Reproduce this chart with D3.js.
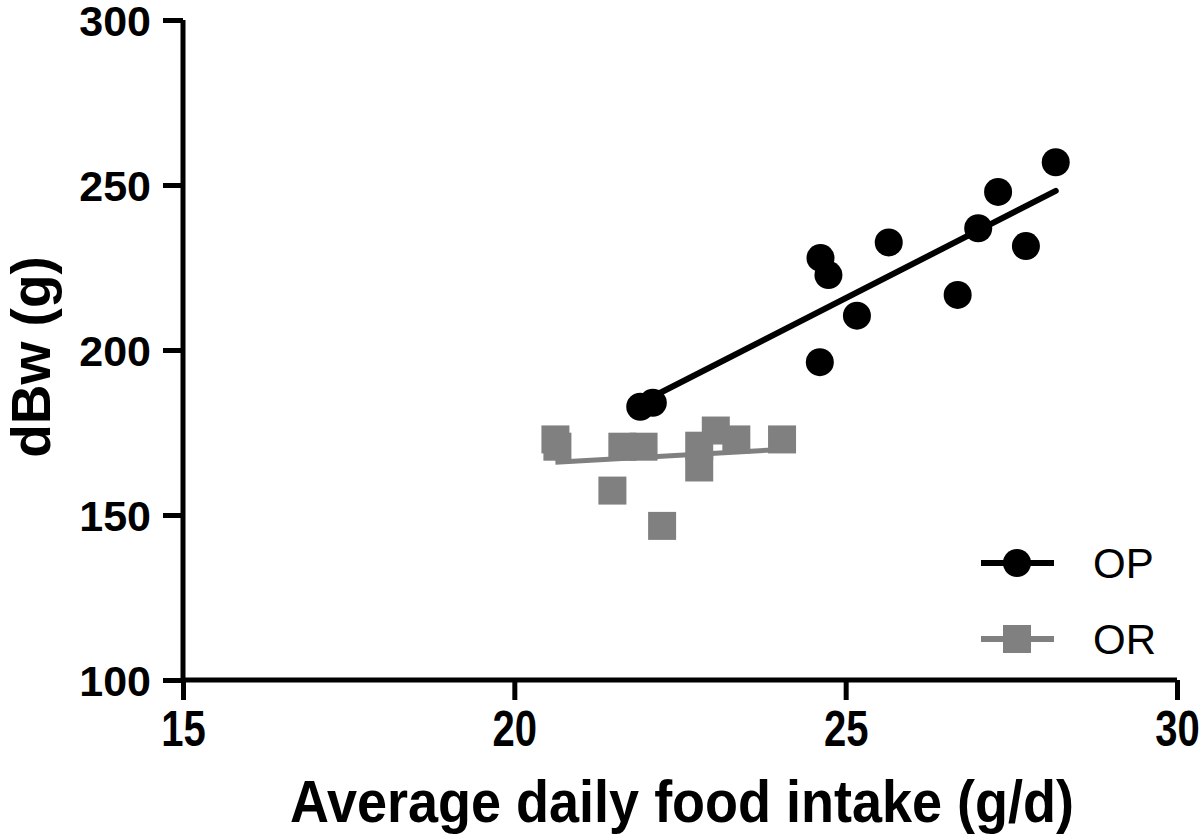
<!DOCTYPE html>
<html><head><meta charset="utf-8">
<script src="https://cdn.jsdelivr.net/npm/d3@7"></script>
<style>body{margin:0;background:#fff}svg{display:block}</style>
</head><body>
<svg id="c" width="1200" height="838"></svg>
<script>
const xTicks = [15, 20, 25, 30];
const yTicks = [100, 150, 200, 250, 300];
const opX = [28.17, 27.30, 27.00, 27.72, 25.65, 24.62, 24.74, 25.17, 26.69, 24.61, 21.90, 22.09];
const opY = [256.9, 247.9, 236.9, 231.5, 232.6, 227.9, 222.7, 210.4, 216.7, 196.3, 182.8, 184.0];
const orX = [20.62, 20.65, 21.63, 21.95, 21.48, 22.23, 22.79, 22.79, 23.04, 23.35, 24.04];
const orY = [172.9, 170.7, 170.7, 170.7, 157.4, 146.7, 171.0, 164.4, 175.6, 172.9, 172.9];
const seriesNames = ["OP", "OR"];
const xTitle = "Average daily food intake (g/d)";
const yTitle = "dBw (g)";

const svg = d3.select("#c");
const x = d3.scaleLinear().domain([15, 30]).range([183, 1177]);
const y = d3.scaleLinear().domain([100, 300]).range([680, 20]);
const gray = "#808080";
const sans = "'Liberation Sans', Arial, sans-serif";

function fit(xs, ys) {
  const mx = d3.mean(xs), my = d3.mean(ys);
  let sxy = 0, sxx = 0;
  xs.forEach((v, i) => { sxy += (v - mx) * (ys[i] - my); sxx += (v - mx) ** 2; });
  const b = sxy / sxx, a = my - b * mx;
  const x0 = d3.min(xs), x1 = d3.max(xs);
  return [[x0, a + b * x0], [x1, a + b * x1]];
}

// axes
const yAxis = svg.append("g").attr("transform", "translate(183,0)")
  .call(d3.axisLeft(y).tickValues(yTicks).tickSize(20).tickPadding(12));
const xAxis = svg.append("g").attr("transform", "translate(0,680)")
  .call(d3.axisBottom(x).tickValues(xTicks).tickSize(20).tickPadding(10));
[yAxis, xAxis].forEach(g => {
  g.select(".domain").attr("stroke", "#000").attr("stroke-width", 5);
  g.selectAll(".tick line").attr("stroke", "#000").attr("stroke-width", 5);
});
yAxis.select(".domain").attr("d", "M0,20V680");
xAxis.select(".domain").attr("d", "M183,0H1177");
yAxis.selectAll(".tick text").attr("fill", "#000")
  .style("font-family", sans)
  .style("font-weight", "bold").style("font-size", "43px").attr("dy", "0.36em");
xAxis.selectAll(".tick text").attr("fill", "#000")
  .style("font-family", sans)
  .style("font-weight", "bold").style("font-size", "50px").attr("dy", "0.72em")
  .attr("transform", "scale(0.8,1)");

// titles
svg.append("text").attr("transform", "translate(682,822) scale(0.9,1)").attr("text-anchor", "middle")
  .style("font-family", sans)
  .style("font-weight", "bold").style("font-size", "60px").text(xTitle);
svg.append("text").attr("transform", "translate(50,357) rotate(-90)").attr("text-anchor", "middle")
  .style("font-family", sans)
  .style("font-weight", "bold").style("font-size", "55px").text(yTitle);

// regression lines
const line = d3.line().x(d => x(d[0])).y(d => y(d[1]));
svg.append("path").attr("d", line(fit(orX, orY))).attr("stroke", gray).attr("stroke-width", 5).attr("fill", "none");
svg.append("path").attr("d", line(fit(opX, opY))).attr("stroke", "#000").attr("stroke-width", 6).attr("fill", "none").attr("stroke-linecap", "round");

// points
const s = 28;
svg.append("g").selectAll("rect").data(orX.map((v, i) => [v, orY[i]])).join("rect")
  .attr("x", d => x(d[0]) - s / 2).attr("y", d => y(d[1]) - s / 2)
  .attr("width", s).attr("height", s).attr("fill", gray);
svg.append("g").selectAll("circle").data(opX.map((v, i) => [v, opY[i]])).join("circle")
  .attr("cx", d => x(d[0])).attr("cy", d => y(d[1])).attr("r", 14).attr("fill", "#000");

// legend
const lg = svg.append("g");
const legY = [563, 639];
seriesNames.forEach((n, i) => {
  const col = i === 0 ? "#000" : gray;
  lg.append("line").attr("x1", 981).attr("x2", 1054).attr("y1", legY[i]).attr("y2", legY[i])
    .attr("stroke", col).attr("stroke-width", 6);
  if (i === 0) lg.append("circle").attr("cx", 1017).attr("cy", legY[i]).attr("r", 14).attr("fill", col);
  else lg.append("rect").attr("x", 1003).attr("y", legY[i] - 14).attr("width", 28).attr("height", 28).attr("fill", col);
  lg.append("text").attr("x", 1093).attr("y", legY[i]).attr("dy", "0.36em")
    .style("font-family", sans).style("font-size", "42px").text(n);
});
</script>
</body></html>
